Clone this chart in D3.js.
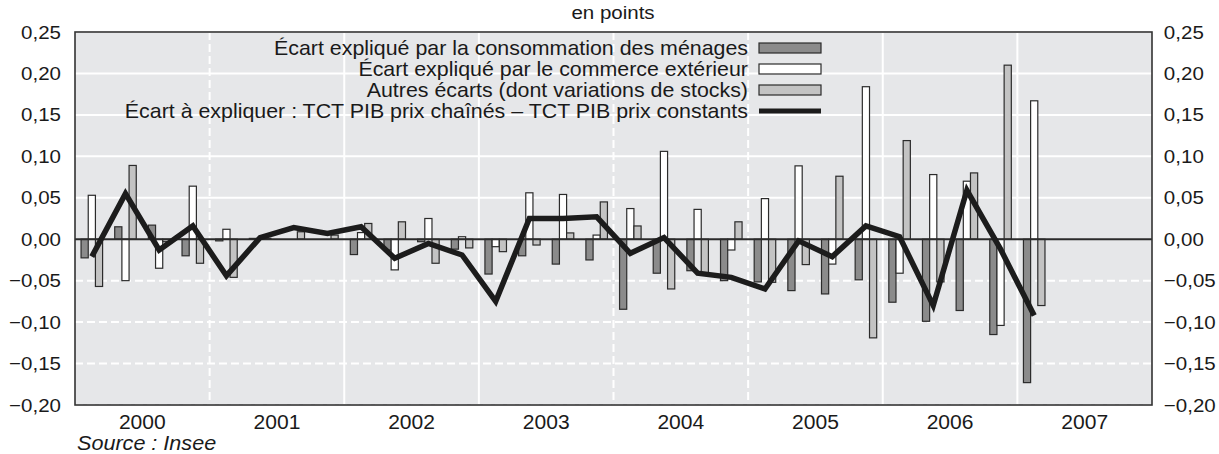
<html>
<head>
<meta charset="utf-8">
<script src="https://cdn.jsdelivr.net/npm/d3@7"></script>
<style>
  body { margin: 0; background: #fff; }
  text { font-family: "Liberation Sans", Arial, sans-serif; fill: #1a1a1a; }
</style>
</head>
<body>
<svg id="chart" width="1219" height="454"></svg>
<script>
// quarters 2000T1 .. 2007T4 (axis), data up to 2007T1
const years = ["2000", "2001", "2002", "2003", "2004", "2005", "2006", "2007"]
const quarters = years.flatMap(y => ["T1", "T2", "T3", "T4"].map(q => y + q))

// Écart expliqué par la consommation des ménages
const consommation = [-0.0225, 0.015, 0.017, -0.020, -0.002, 0.001, 0.0, 0.0,
  -0.0185, -0.013, -0.003, -0.012, -0.042, -0.020, -0.030, -0.025,
  -0.0845, -0.041, -0.038, -0.050, -0.0515, -0.062, -0.066, -0.049,
  -0.076, -0.099, -0.086, -0.115, -0.173]
// Écart expliqué par le commerce extérieur
const commerce = [0.053, -0.050, -0.035, 0.064, 0.012, 0.0, 0.0, 0.0,
  0.008, -0.037, 0.025, 0.003, -0.009, 0.056, 0.054, 0.005,
  0.037, 0.106, 0.036, -0.013, 0.049, 0.0885, -0.030, 0.184,
  -0.041, 0.078, 0.070, -0.104, 0.167]
// Autres écarts (dont variations de stocks)
const autres = [-0.057, 0.089, -0.003, -0.029, -0.046, 0.001, 0.009, 0.005,
  0.019, 0.021, -0.029, -0.0105, -0.015, -0.007, 0.0076, 0.045,
  0.016, -0.060, -0.041, 0.021, -0.052, -0.0306, 0.076, -0.119,
  0.119, -0.0515, 0.080, 0.210, -0.080]
// Écart à expliquer
const ecart = [-0.021, 0.055, -0.013, 0.016, -0.044, 0.002, 0.014, 0.007,
  0.015, -0.023, -0.005, -0.019, -0.075, 0.025, 0.025, 0.027,
  -0.017, 0.002, -0.041, -0.046, -0.060, -0.002, -0.021, 0.016,
  0.003, -0.080, 0.059, -0.012, -0.092]

const seriesNames = ["Écart expliqué par la consommation des ménages",
  "Écart expliqué par le commerce extérieur",
  "Autres écarts (dont variations de stocks)",
  "Écart à expliquer : TCT PIB prix chaînés – TCT PIB prix constants"]
const yTicks = [-0.20, -0.15, -0.10, -0.05, 0, 0.05, 0.10, 0.15, 0.20, 0.25]
const yTickLabels = ["−0,20", "−0,15", "−0,10", "−0,05", "0,00", "0,05", "0,10", "0,15", "0,20", "0,25"]

const barColors = ["#8b8b8b", "#ffffff", "#c3c3c3"]
const sx = 1.08   // text is a bit wider than plain Arial

let svg = d3.select("#chart")
let pLeft = 75, pRight = 1152, pTop = 32, pBottom = 405

let x = d3.scaleBand().domain(quarters).range([pLeft, pRight])
  .paddingInner(0.36).paddingOuter(0.18)
let xYear = d3.scaleBand().domain(years).range([pLeft, pRight])
let xSeries = d3.scaleBand().domain([0, 1, 2]).range([0, x.bandwidth()])
let y = d3.scaleLinear().domain([-0.2, 0.25]).range([pBottom, pTop])

function label(g, px, py, txt, anchor, size, italic) {
  let t = g.append("text")
    .attr("transform", `translate(${px},${py}) scale(${sx},1)`)
    .attr("text-anchor", anchor)
    .style("font-size", size + "px")
    .text(txt)
  if (italic) t.style("font-style", "italic")
  return t
}

// plot background
svg.append("rect").attr("x", pLeft).attr("y", pTop)
  .attr("width", pRight - pLeft).attr("height", pBottom - pTop)
  .attr("fill", "#e6e7e9")

// horizontal grid
svg.append("g").selectAll("line")
  .data(yTicks.filter(d => d != 0))
  .join("line")
  .attr("x1", pLeft).attr("x2", pRight)
  .attr("y1", d => y(d)).attr("y2", d => y(d))
  .attr("stroke", "#fff").attr("stroke-width", 2)
  .attr("stroke-dasharray", d => d < 0 ? "8,4" : null)

// vertical grid at year boundaries
const dashedBounds = ["2001", "2004", "2005"]
svg.append("g").selectAll("line")
  .data(years.slice(1))
  .join("line")
  .attr("x1", d => xYear(d)).attr("x2", d => xYear(d))
  .attr("y1", pTop).attr("y2", pBottom)
  .attr("stroke", "#fff").attr("stroke-width", 2)
  .attr("stroke-dasharray", d => dashedBounds.includes(d) ? "8,4" : null)

// bars
let series = [consommation, commerce, autres]
let bars = svg.append("g")
series.forEach((vals, s) => {
  bars.selectAll(".s" + s)
    .data(vals)
    .join("rect")
    .attr("class", "s" + s)
    .attr("x", (d, i) => x(quarters[i]) + xSeries(s))
    .attr("width", xSeries.bandwidth())
    .attr("y", d => y(Math.max(0, d)))
    .attr("height", d => Math.abs(y(d) - y(0)))
    .attr("fill", barColors[s])
    .attr("stroke", "#2b2b2b").attr("stroke-width", 1.2)
})

// zero line
svg.append("line").attr("x1", pLeft).attr("x2", pRight)
  .attr("y1", y(0)).attr("y2", y(0))
  .attr("stroke", "#2b2b2b").attr("stroke-width", 2)

// line
let line = d3.line()
  .x((d, i) => x(quarters[i]) + x.bandwidth() / 2)
  .y(d => y(d))
svg.append("path").datum(ecart)
  .attr("d", line)
  .attr("fill", "none").attr("stroke", "#1c1c1c")
  .attr("stroke-width", 5.5).attr("stroke-linejoin", "miter")

// frame
svg.append("rect").attr("x", pLeft).attr("y", pTop)
  .attr("width", pRight - pLeft).attr("height", pBottom - pTop)
  .attr("fill", "none").attr("stroke", "#333").attr("stroke-width", 1.6)

// axes
let yAxisL = d3.axisLeft(y).tickValues(yTicks).tickSize(0).tickPadding(13)
  .tickFormat((d, i) => yTickLabels[i])
let gl = svg.append("g").attr("transform", `translate(${pLeft},0)`).call(yAxisL)
let yAxisR = d3.axisRight(y).tickValues(yTicks).tickSize(0).tickPadding(11)
  .tickFormat((d, i) => yTickLabels[i])
let gr = svg.append("g").attr("transform", `translate(${pRight},0)`).call(yAxisR)
;[gl, gr].forEach(g => {
  g.select(".domain").remove()
  g.selectAll("text").style("font-size", "19px").style("font-family", null)
    .attr("fill", "#1a1a1a")
    .attr("transform", `scale(${sx},1)`)
})

let xAxis = d3.axisBottom(xYear).tickSize(0).tickPadding(10)
let gx = svg.append("g").attr("transform", `translate(0,${pBottom})`).call(xAxis)
gx.select(".domain").remove()
gx.selectAll("text").style("font-size", "19.5px").style("font-family", null)
  .attr("fill", "#1a1a1a")
  .attr("transform", `scale(${sx},1)`)

// title and source
label(svg, 613, 19, "en points", "middle", 19)
label(svg, 77, 450, "Source : Insee", "start", 20, true)

// legend
let legend = svg.append("g")
seriesNames.forEach((name, i) => {
  let cy = 48 + i * 21
  label(legend, 748, cy + 6.8, name, "end", 19.8)
  if (i < 3) {
    legend.append("rect").attr("x", 759).attr("y", cy - 5)
      .attr("width", 62).attr("height", 10)
      .attr("fill", barColors[i]).attr("stroke", "#2b2b2b").attr("stroke-width", 1.2)
  } else {
    legend.append("line").attr("x1", 759).attr("x2", 821)
      .attr("y1", cy).attr("y2", cy)
      .attr("stroke", "#1c1c1c").attr("stroke-width", 5)
  }
})
</script>
</body>
</html>
